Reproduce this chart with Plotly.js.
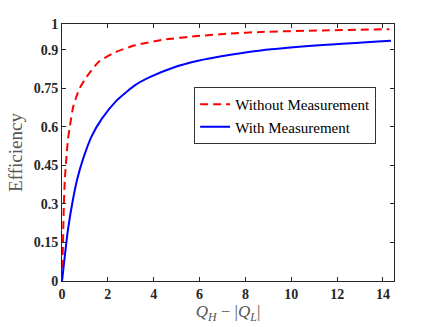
<!DOCTYPE html>
<html>
<head>
<meta charset="utf-8">
<script src="https://cdn.plot.ly/plotly-3.0.1.min.js"></script>
<style>
  html, body { margin: 0; padding: 0; background: #fff; }
  #chart { width: 436px; height: 327px; }
</style>
</head>
<body>
<div id="chart"></div>
<script>
const xWithout = [0, 0.02, 0.04, 0.07, 0.12, 0.2, 0.26, 0.35, 0.48, 0.6, 0.77, 1.08, 1.59, 2.32, 3.19, 4.43, 5.89, 7.35, 8.67, 11.37, 14.28];
const yWithout = [0, 0.07, 0.133, 0.26, 0.39, 0.49, 0.55, 0.605, 0.675, 0.71, 0.75, 0.795, 0.852, 0.89, 0.917, 0.939, 0.953, 0.963, 0.969, 0.975, 0.98];

const xWith = [0, 0.12, 0.26, 0.48, 0.66, 0.92, 1.28, 1.74, 2.39, 3.19, 3.85, 4.87, 5.89, 7.35, 8.67, 11.37, 14.35];
const yWith = [0, 0.095, 0.2, 0.318, 0.395, 0.475, 0.561, 0.632, 0.703, 0.762, 0.794, 0.831, 0.856, 0.880, 0.897, 0.918, 0.935];

const yTicks = [0, 0.15, 0.3, 0.45, 0.6, 0.75, 0.9, 1];
const xTicks = [0, 2, 4, 6, 8, 10, 12, 14];

const axisColor = '#262626';
const serif = 'Liberation Serif, Times New Roman, serif';

const traces = [
  {
    x: xWithout, y: yWithout, mode: 'lines', name: 'Without Measurement',
    line: { color: '#ff0000', width: 2, dash: '8px,5px', shape: 'spline', smoothing: 0.6 }
  },
  {
    x: xWith, y: yWith, mode: 'lines', name: 'With Measurement',
    line: { color: '#0000ff', width: 2, shape: 'spline', smoothing: 0.6 }
  }
];

const layout = {
  width: 436, height: 327,
  margin: { l: 62, r: 42, t: 24, b: 46 },
  paper_bgcolor: '#fff', plot_bgcolor: '#fff',
  font: { family: serif, color: axisColor },
  showlegend: true,
  legend: {
    x: 0.398, y: 0.755, xanchor: 'left', yanchor: 'top',
    bgcolor: '#fff', bordercolor: '#333', borderwidth: 1,
    font: { family: serif, size: 15, color: '#000' },
    tracegroupgap: 0
  },
  xaxis: {
    range: [0, 14.48], tickvals: xTicks,
    ticks: 'inside', ticklen: 4, tickcolor: axisColor, mirror: 'ticks',
    showline: true, linecolor: axisColor, linewidth: 1,
    showgrid: false, zeroline: false,
    tickfont: { family: serif, size: 14, weight: 'bold', color: axisColor },
    title: {
      text: '<i>Q</i><sub><i>H</i></sub> \u2212 |<i>Q</i><sub><i>L</i></sub>|',
      font: { family: serif, size: 17, color: '#555' }, standoff: 4
    }
  },
  yaxis: {
    range: [0, 1], tickvals: yTicks, ticktext: yTicks.map(String),
    ticks: 'inside', ticklen: 4, tickcolor: axisColor, mirror: 'ticks',
    showline: true, linecolor: axisColor, linewidth: 1,
    showgrid: false, zeroline: false,
    tickfont: { family: serif, size: 14, weight: 'bold', color: axisColor },
    title: { text: 'Efficiency', font: { family: serif, size: 19, color: '#555' }, standoff: 6 }
  }
};

Plotly.newPlot('chart', traces, layout, { staticPlot: true, displayModeBar: false });
</script>
</body>
</html>
